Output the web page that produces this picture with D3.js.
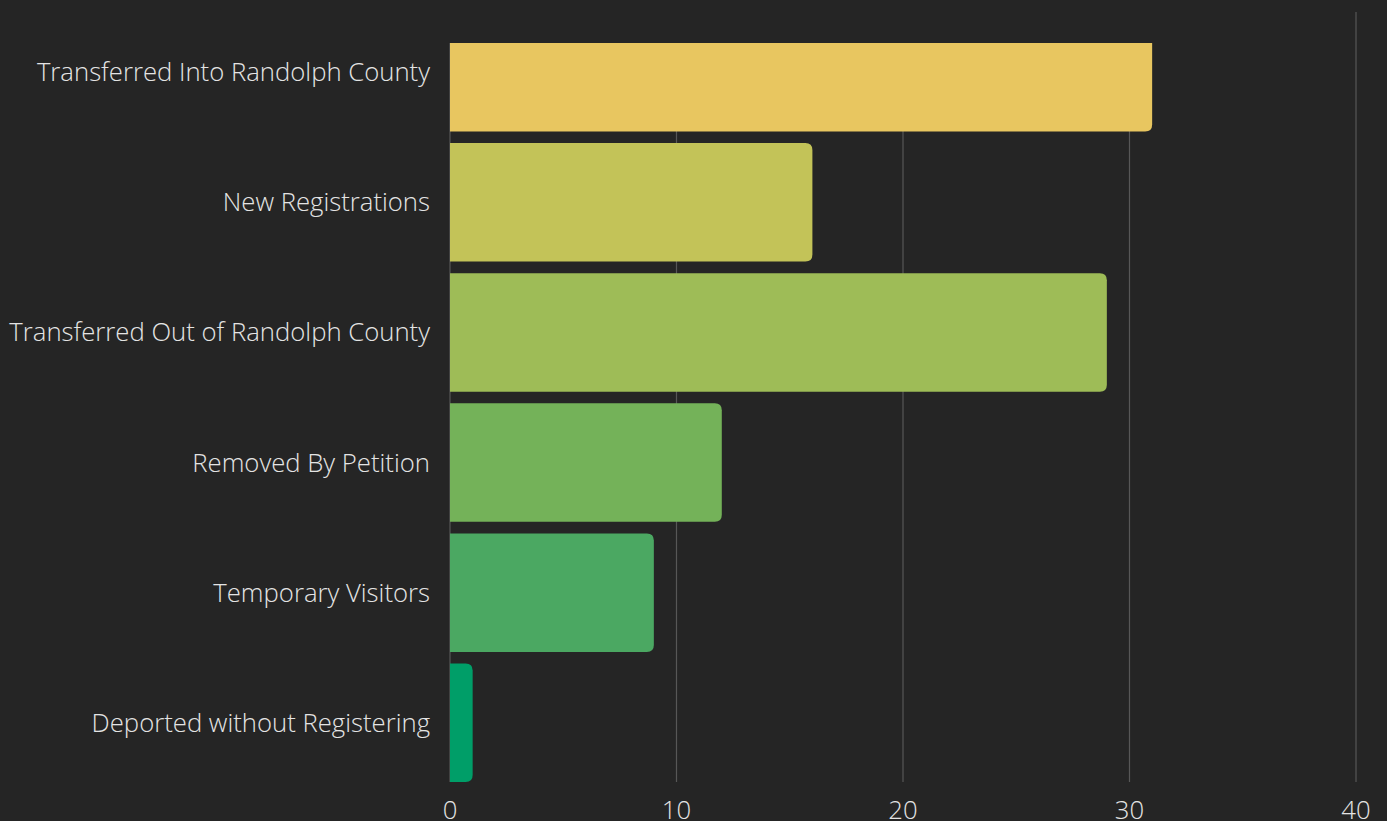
<!DOCTYPE html>
<html>
<head>
<style>
  html, body { margin: 0; padding: 0; background: #252525; }
  svg { display: block; }
</style>
</head>
<body>
<svg width="1387" height="821"></svg>
<script src="https://d3js.org/d3.v7.min.js"></script>
<script>

var categories = [
  "Transferred Into Randolph County",
  "New Registrations",
  "Transferred Out of Randolph County",
  "Removed By Petition",
  "Temporary Visitors",
  "Deported without Registering"
];
var values = [31, 16, 29, 12, 9, 1];
var colors = ["#e8c660", "#c3c358", "#9ebc57", "#74b259", "#4ba862", "#009e68"];
var xTicks = [0, 10, 20, 30, 40];

var svg = d3.select("svg"),
    width = +svg.attr("width"),
    height = +svg.attr("height");

svg.append("rect")
    .attr("width", width)
    .attr("height", height)
    .attr("fill", "#252525");

var x = d3.scaleLinear()
    .domain([0, 40])
    .range([450, 1356]);

var y = d3.scaleBand()
    .domain(categories)
    .range([13, 782])
    .paddingInner(0.09)
    .paddingOuter(0);

// the top of the plot is cut off at y=43, except at the far right edge
var clip = svg.append("clipPath").attr("id", "plot-clip");
clip.append("rect")
    .attr("x", 0).attr("y", 43)
    .attr("width", width).attr("height", height - 43);
clip.append("rect")
    .attr("x", x(40) - 3).attr("y", 0)
    .attr("width", width - x(40) + 3).attr("height", height);

var plot = svg.append("g").attr("clip-path", "url(#plot-clip)");

// gridlines
plot.append("g")
  .selectAll("line")
  .data(xTicks)
  .join("line")
    .attr("x1", function(d) { return x(d); })
    .attr("x2", function(d) { return x(d); })
    .attr("y1", 12)
    .attr("y2", 782)
    .attr("stroke", "#575757")
    .attr("stroke-width", 1.2);

// bars with rounded right end
var r = 7;
function barPath(d, i) {
  var x0 = x(0), x1 = x(d), y0 = y(categories[i]), h = y.bandwidth();
  var rr = Math.min(r, x1 - x0);
  return "M" + x0 + "," + y0 +
         "H" + (x1 - rr) +
         "Q" + x1 + "," + y0 + " " + x1 + "," + (y0 + rr) +
         "V" + (y0 + h - rr) +
         "Q" + x1 + "," + (y0 + h) + " " + (x1 - rr) + "," + (y0 + h) +
         "H" + x0 + "Z";
}

plot.append("g")
  .selectAll("path")
  .data(values)
  .join("path")
    .attr("d", barPath)
    .attr("fill", function(d, i) { return colors[i]; });

// category labels
svg.append("g")
  .selectAll("text")
  .data(categories)
  .join("text")
    .attr("x", 430)
    .attr("y", function(d) { return y(d) + y.bandwidth() / 2; })
    .attr("dy", "0.35em")
    .attr("text-anchor", "end")
    .attr("fill", "#e4e4e4")
    .style("font-family", "'Open Sans', sans-serif")
    .style("font-weight", 300)
    .style("font-size", "25.7px")
    .text(function(d) { return d; });

// x tick labels
svg.append("g")
  .selectAll("text")
  .data(xTicks)
  .join("text")
    .attr("x", function(d) { return x(d); })
    .attr("y", 819)
    .attr("text-anchor", "middle")
    .attr("fill", "#e4e4e4")
    .style("font-family", "'Open Sans', sans-serif")
    .style("font-weight", 300)
    .style("font-size", "25.7px")
    .text(function(d) { return d; });

</script>
</body>
</html>
